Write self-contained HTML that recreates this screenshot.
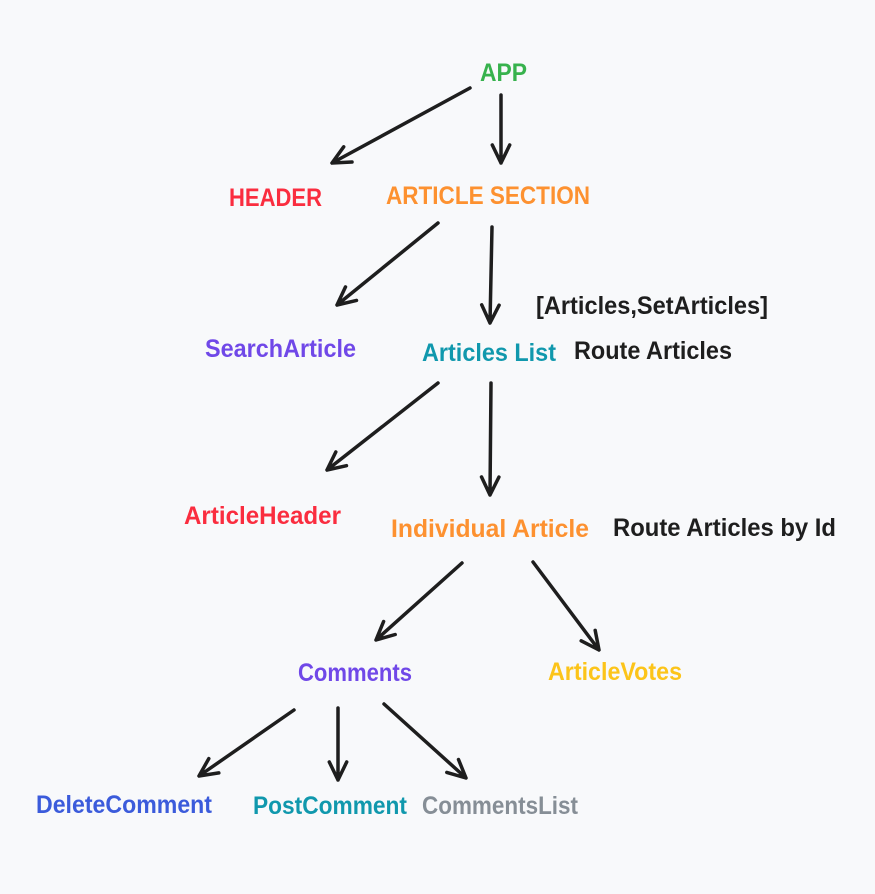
<!DOCTYPE html>
<html><head><meta charset="utf-8"><style>
html,body{margin:0;padding:0;background:#f8f9fb;}
svg{display:block}
text{font-family:"Liberation Sans",sans-serif;font-weight:bold;font-size:25px;dominant-baseline:central}
</style></head><body>
<svg id="s" width="875" height="894" xmlns="http://www.w3.org/2000/svg">
<rect width="875" height="894" fill="#f8f9fb"/>
<text x="480" y="73" textLength="47" lengthAdjust="spacingAndGlyphs" fill="#37b24d">APP</text>
<text x="229" y="198" textLength="93" lengthAdjust="spacingAndGlyphs" fill="#fa2d3f">HEADER</text>
<text x="386" y="196" textLength="204" lengthAdjust="spacingAndGlyphs" fill="#fd9130">ARTICLE SECTION</text>
<text x="536" y="306" textLength="232" lengthAdjust="spacingAndGlyphs" fill="#1e1e1e">[Articles,SetArticles]</text>
<text x="205" y="349" textLength="151" lengthAdjust="spacingAndGlyphs" fill="#7048e8">SearchArticle</text>
<text x="422" y="353" textLength="134" lengthAdjust="spacingAndGlyphs" fill="#1098ad">Articles List</text>
<text x="574" y="351" textLength="158" lengthAdjust="spacingAndGlyphs" fill="#1e1e1e">Route Articles</text>
<text x="184" y="516" textLength="157" lengthAdjust="spacingAndGlyphs" fill="#fa2d3f">ArticleHeader</text>
<text x="391" y="529" textLength="198" lengthAdjust="spacingAndGlyphs" fill="#fd9130">Individual Article</text>
<text x="613" y="528" textLength="223" lengthAdjust="spacingAndGlyphs" fill="#1e1e1e">Route Articles by Id</text>
<text x="298" y="673" textLength="114" lengthAdjust="spacingAndGlyphs" fill="#7048e8">Comments</text>
<text x="548" y="672" textLength="134" lengthAdjust="spacingAndGlyphs" fill="#fcc419">ArticleVotes</text>
<text x="36" y="805" textLength="176" lengthAdjust="spacingAndGlyphs" fill="#3b5bdb">DeleteComment</text>
<text x="253" y="806" textLength="154" lengthAdjust="spacingAndGlyphs" fill="#1098ad">PostComment</text>
<text x="422" y="806" textLength="156" lengthAdjust="spacingAndGlyphs" fill="#868e96">CommentsList</text>
<g id="a" stroke="#1e1e1e" stroke-width="3.5" fill="none" stroke-linecap="round" stroke-linejoin="round"></g>
</svg>
<script>
var arrows=[[470,88,332,163],[501,95,501,163],[438,223,337,305],[492,227,490,323],[438,383,327,470],[491,383,490,495],[462,563,376,640],[533,562,599,650],[294,710,199,776],[338,708,338,780],[384,704,466,778]];
var g=document.getElementById('a'),d='';
arrows.forEach(function(a){var x1=a[0],y1=a[1],x2=a[2],y2=a[3];var ang=Math.atan2(y2-y1,x2-x1),L=20,s=0.45;
var p1=[x2-L*Math.cos(ang-s),y2-L*Math.sin(ang-s)],p2=[x2-L*Math.cos(ang+s),y2-L*Math.sin(ang+s)];
d+='M'+x1+' '+y1+'L'+x2+' '+y2+'M'+p1[0].toFixed(1)+' '+p1[1].toFixed(1)+'L'+x2+' '+y2+'L'+p2[0].toFixed(1)+' '+p2[1].toFixed(1);});
var p=document.createElementNS('http://www.w3.org/2000/svg','path');p.setAttribute('d',d);g.appendChild(p);
</script>
</body></html>
